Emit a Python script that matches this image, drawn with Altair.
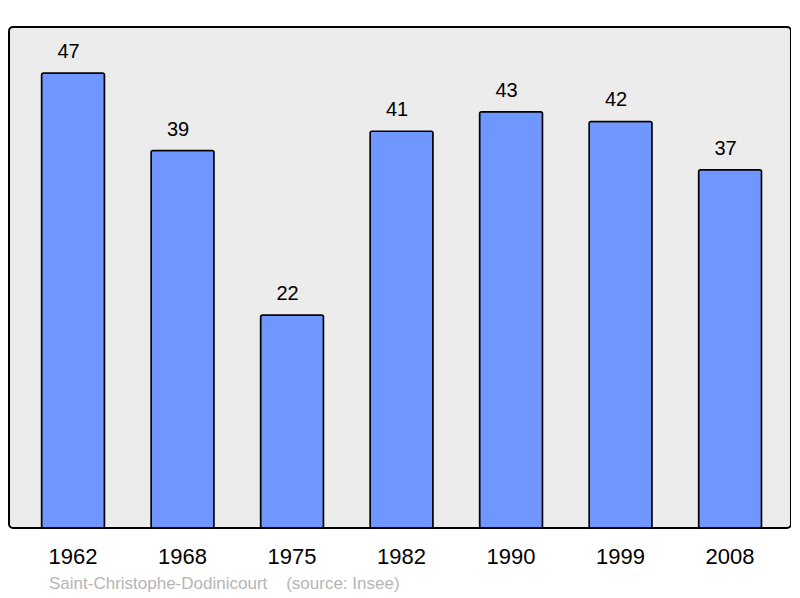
import altair as alt
import pandas as pd

years = ["1962", "1968", "1975", "1982", "1990", "1999", "2008"]
population = [47, 39, 22, 41, 43, 42, 37]
source_text = "Saint-Christophe-Dodinicourt\u00a0\u00a0\u00a0\u00a0(source: Insee)"

df = pd.DataFrame({"year": years, "pop": population})

FONT = "Liberation Sans"

x = alt.X("year:N", sort=years, title=None,
          scale=alt.Scale(paddingInner=0.425, paddingOuter=0.283, align=0.525),
          axis=alt.Axis(domain=False, ticks=False, labelAngle=0, labelFontSize=22,
                        labelFont=FONT, labelColor="black", labelPadding=18, grid=False))
y = alt.Y("pop:Q", title=None, scale=alt.Scale(domain=[0, 51.76], nice=False, zero=True),
          axis=None)

base = alt.Chart(df)

bars = base.mark_bar(color="#7096ff", stroke="black", strokeWidth=1.5, cornerRadius=2).encode(x=x, y=y)

labels = base.mark_text(font=FONT, fontSize=20, color="black", dx=-4.5, dy=-15,
                        baseline="alphabetic", align="center").encode(
    x=x, y=y, text=alt.Text("pop:Q"))

src = alt.Chart(pd.DataFrame({"t": [source_text]})).mark_text(
    font=FONT, fontSize=17, color="#b5b5b5", align="left", baseline="alphabetic"
).encode(x=alt.value(40), y=alt.value(562), text="t:N")

chart = alt.layer(bars, labels, src).properties(
    width=782, height=501,
    autosize=alt.AutoSizeParams(type="none"),
    padding={"left": 1, "top": 19, "right": 0, "bottom": 70},
    background="white",
).configure_view(
    fill="#ececec", stroke="black", strokeWidth=2, cornerRadius=4
)

chart.save("out.html", embed_options={"renderer": "svg", "actions": False})
